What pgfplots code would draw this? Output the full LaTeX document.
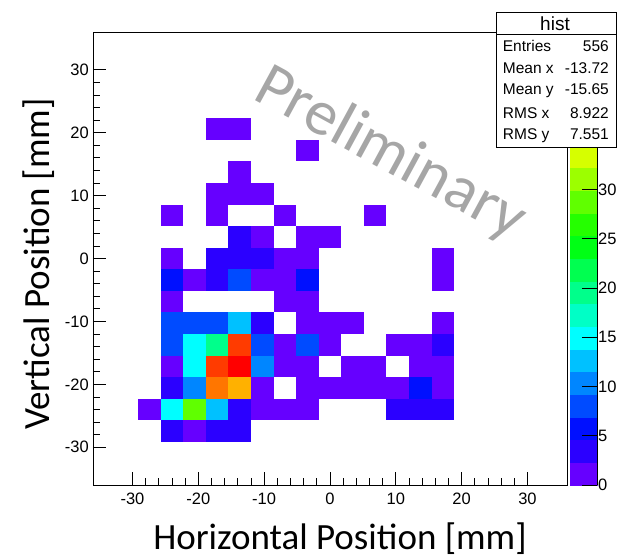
\documentclass[border=0pt]{standalone}
\usepackage{fontspec}
\setmainfont{Liberation Sans}
\newfontfamily\carlito{Carlito}
\usepackage{pgfplots}
\pgfplotsset{compat=1.18}
\usepackage{pgfplotstable}

\pgfplotstableread{
x y c
-17.14 20.57 1
-13.71 20.57 1
-3.43 17.14 1
-13.71 13.71 1
-17.14 10.29 1
-13.71 10.29 1
-10.29 10.29 1
-24.00 6.86 1
-17.14 6.86 1
-6.86 6.86 1
6.86 6.86 1
-13.71 3.43 3
-10.29 3.43 1
-3.43 3.43 1
0 3.43 1
-24.00 0 1
-17.14 0 3
-13.71 0 3
-10.29 0 3
-6.86 0 1
-3.43 0 1
17.14 0 1
-24.00 -3.43 6
-20.57 -3.43 1
-17.14 -3.43 3
-13.71 -3.43 8
-10.29 -3.43 1
-6.86 -3.43 1
-3.43 -3.43 6
17.14 -3.43 1
-24.00 -6.86 1
-6.86 -6.86 1
-3.43 -6.86 1
-24.00 -10.29 8
-20.57 -10.29 8
-17.14 -10.29 8
-13.71 -10.29 13
-10.29 -10.29 3
-3.43 -10.29 1
0 -10.29 1
3.43 -10.29 1
17.14 -10.29 1
-24.00 -13.71 8
-20.57 -13.71 15
-17.14 -13.71 19
-13.71 -13.71 42
-10.29 -13.71 8
-6.86 -13.71 1
-3.43 -13.71 8
0 -13.71 1
10.29 -13.71 1
13.71 -13.71 1
17.14 -13.71 3
-24.00 -17.14 1
-20.57 -17.14 15
-17.14 -17.14 42
-13.71 -17.14 46
-10.29 -17.14 10
-6.86 -17.14 1
-3.43 -17.14 1
3.43 -17.14 1
6.86 -17.14 1
13.71 -17.14 1
17.14 -17.14 1
-24.00 -20.57 3
-20.57 -20.57 10
-17.14 -20.57 40
-13.71 -20.57 38
-10.29 -20.57 1
-3.43 -20.57 1
0 -20.57 1
3.43 -20.57 1
6.86 -20.57 1
10.29 -20.57 1
13.71 -20.57 6
17.14 -20.57 1
-27.43 -24.00 1
-24.00 -24.00 15
-20.57 -24.00 28
-17.14 -24.00 13
-13.71 -24.00 3
-10.29 -24.00 1
-6.86 -24.00 1
-3.43 -24.00 1
10.29 -24.00 3
13.71 -24.00 3
17.14 -24.00 3
-24.00 -27.43 3
-20.57 -27.43 1
-17.14 -27.43 3
-13.71 -27.43 3
}\histdata

\pgfdeclareplotmark{cell}{%
  \pgfpathrectangle{\pgfqpoint{-11.3pt}{-10.8pt}}{\pgfqpoint{22.6pt}{21.6pt}}%
  \pgfusepathqfill}

\begin{document}
\begin{tikzpicture}
\path[use as bounding box] (-93pt,-70pt) rectangle (530pt,485pt);
\begin{axis}[
  at={(0,0)}, anchor=south west,
  scale only axis, width=474pt, height=453pt,
  xmin=-36, xmax=36, ymin=-36, ymax=36,
  xtick={-30,-20,...,30}, ytick={-30,-20,...,30},
  minor tick num=4,
  tick align=inside, tick pos=left,
  major tick length=13pt, minor tick length=7pt,
  every tick/.style={black, line width=0.8pt},
  axis line style={black, line width=0.8pt},
  /pgf/number format/assume math mode=true,
  ticklabel style={font=\fontsize{16.5}{18}\selectfont},
  xticklabel style={inner sep=0pt, yshift=-8pt},
  yticklabel style={inner sep=0pt, xshift=-4pt},
  xlabel={Horizontal Position [mm]},
  ylabel={Vertical Position [mm]},
  label style={font=\carlito\fontsize{37}{40}\selectfont},
  xlabel style={at={(axis description cs:0.5211,-0.1413)}, anchor=base, inner sep=0pt},
  ylabel style={at={(axis description cs:-0.0928,0.4879)}, anchor=base, inner sep=0pt},
  colormap={rootpal}{
    rgb255=(102,0,255) rgb255=(43,0,255) rgb255=(0,16,255) rgb255=(0,75,255)
    rgb255=(0,134,255) rgb255=(0,193,255) rgb255=(0,254,255) rgb255=(0,255,198)
    rgb255=(0,255,139) rgb255=(0,255,80) rgb255=(0,255,21) rgb255=(37,255,0)
    rgb255=(96,255,0) rgb255=(156,255,0) rgb255=(214,255,0) rgb255=(255,236,0)
    rgb255=(255,177,0) rgb255=(255,118,0) rgb255=(255,59,0) rgb255=(255,0,0)},
  colormap access=piecewise constant,
  point meta min=0, point meta max=46,
  colorbar shift/.style={xshift=3pt},
  colorbar,
  colorbar style={
    at={(parent axis.south east)}, anchor=south west,
    scale only axis, width=27pt, height=453pt,
    ytick={0,5,...,45}, xtick=\empty,
    minor tick num=0,
    ytick pos=right, yticklabel pos=right,
    tick align=inside, major tick length=15pt,
    every tick/.style={black, line width=0.8pt},
    axis line style={draw=none},
    /pgf/number format/assume math mode=true,
    yticklabel style={font=\fontsize{16.5}{18}\selectfont, inner sep=0pt, xshift=1pt},
    after end axis/.code={\draw[black, line width=0.8pt] (rel axis cs:1,0) -- (rel axis cs:1,1);},
  },
]
\addplot[scatter, only marks, mark=cell, point meta=explicit,
  scatter/use mapped color={draw=none, fill=mapped color}]
  table[x=x, y=y, meta=c] {\histdata};
\end{axis}
\node[rotate=-28.5, text=black!35, font=\carlito\fontsize{64}{66}\selectfont, inner sep=0pt]
  at (297pt,331pt) {Preliminary};
\draw[black, line width=0.8pt, fill=white] (403pt,337.3pt) rectangle (523pt,472.7pt);
\draw[black, line width=0.8pt] (403pt,450.7pt) -- (523pt,450.7pt);
\node[anchor=base, font=\fontsize{19}{20}\selectfont, inner sep=0pt] at (462pt,454.3pt) {hist};
\begin{scope}[every node/.style={font=\fontsize{15.5}{17}\selectfont, inner sep=0pt}]
\node[anchor=base west] at (409.7pt,433.3pt) {Entries};
\node[anchor=base east] at (516pt,433.3pt) {556};
\node[anchor=base west] at (409.7pt,411pt) {Mean x};
\node[anchor=base east] at (516pt,411pt) {-13.72};
\node[anchor=base west] at (409.7pt,390pt) {Mean y};
\node[anchor=base east] at (516pt,390pt) {-15.65};
\node[anchor=base west] at (409.7pt,366.7pt) {RMS x};
\node[anchor=base east] at (516pt,366.7pt) {8.922};
\node[anchor=base west] at (409.7pt,345pt) {RMS y};
\node[anchor=base east] at (516pt,345pt) {7.551};
\end{scope}
\end{tikzpicture}
\end{document}
